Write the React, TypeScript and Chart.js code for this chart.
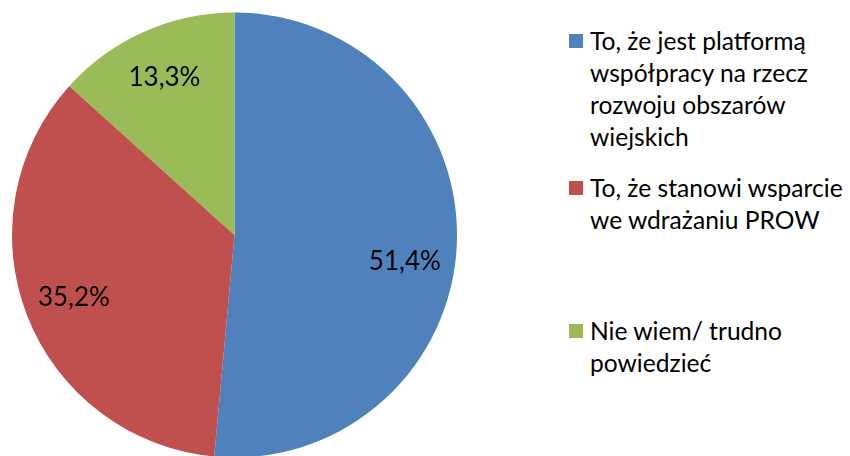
import React, { useEffect, useRef } from "react";
import { Chart, registerables } from "chart.js";

Chart.register(...registerables);

const categories: string[] = [
  "To, że jest platformą współpracy na rzecz rozwoju obszarów wiejskich",
  "To, że stanowi wsparcie we wdrażaniu PROW",
  "Nie wiem/ trudno powiedzieć",
];
const legendLines: string[][] = [
  ["To, że jest platformą", "współpracy na rzecz", "rozwoju obszarów", "wiejskich"],
  ["To, że stanowi wsparcie", "we wdrażaniu PROW"],
  ["Nie wiem/ trudno", "powiedzieć"],
];
const values: number[] = [51.4, 35.2, 13.3];
const colors: string[] = ["#4F81BD", "#C0504D", "#9BBB59"];

const FONT = "Lato, 'Noto Sans', sans-serif";

const labelPlugin = {
  id: "sliceLabels",
  afterDatasetsDraw(chart: any, _args: any, opts: any) {
    const ctx = chart.ctx;
    const meta = chart.getDatasetMeta(0);
    const shifts: number[] = opts.angleShiftDeg || [];
    ctx.save();
    ctx.font = `${opts.fontSize}px ${FONT}`;
    ctx.fillStyle = "#000";
    ctx.textAlign = "center";
    ctx.textBaseline = "middle";
    meta.data.forEach((arc: any, i: number) => {
      const p = arc.getProps(["x", "y", "startAngle", "endAngle", "outerRadius"], true);
      const mid = (p.startAngle + p.endAngle) / 2 + ((shifts[i] || 0) * Math.PI) / 180;
      const r = p.outerRadius * opts.radiusFactor;
      const x = p.x + Math.cos(mid) * r;
      const y = p.y + Math.sin(mid) * r;
      const v = chart.data.datasets[0].data[i] as number;
      ctx.fillText(v.toFixed(1).replace(".", ",") + "%", x, y);
    });
    ctx.restore();
  },
};

export default function App() {
  const ref = useRef<HTMLCanvasElement | null>(null);

  useEffect(() => {
    document.body.style.margin = "0";
    if (!ref.current) return;
    const chart = new Chart(ref.current, {
      type: "pie",
      data: {
        labels: categories,
        datasets: [
          {
            data: values,
            backgroundColor: colors,
            borderWidth: 0,
          },
        ],
      },
      options: {
        animation: false,
        responsive: false,
        maintainAspectRatio: false,
        layout: { padding: { left: 12, right: 13, top: 12.5, bottom: 12.5 } },
        plugins: {
          legend: { display: false },
          tooltip: { enabled: false },
          sliceLabels: { fontSize: 26, radiusFactor: 0.775, angleShiftDeg: [6.3, 0, 0] },
        } as any,
      },
      plugins: [labelPlugin],
    });
    return () => chart.destroy();
  }, []);

  const itemTops = [25, 172, 315];

  return (
    <div style={{ position: "relative", width: 850, height: 456, overflow: "hidden", background: "#fff" }}>
      <canvas ref={ref} width={470} height={470} style={{ position: "absolute", left: 0, top: 0 }} />
      {legendLines.map((lines, i) => (
        <div
          key={i}
          style={{
            position: "absolute",
            left: 569,
            top: itemTops[i],
            display: "flex",
            alignItems: "flex-start",
            fontFamily: FONT,
            fontSize: 24.6,
            lineHeight: "32px",
            color: "#000",
          }}
        >
          <div
            style={{
              width: 14,
              height: 14,
              background: colors[i],
              marginTop: 9,
              marginRight: 7,
              flex: "none",
            }}
          />
          <div>
            {lines.map((l, j) => (
              <div key={j} style={{ whiteSpace: "nowrap" }}>{l}</div>
            ))}
          </div>
        </div>
      ))}
    </div>
  );
}
